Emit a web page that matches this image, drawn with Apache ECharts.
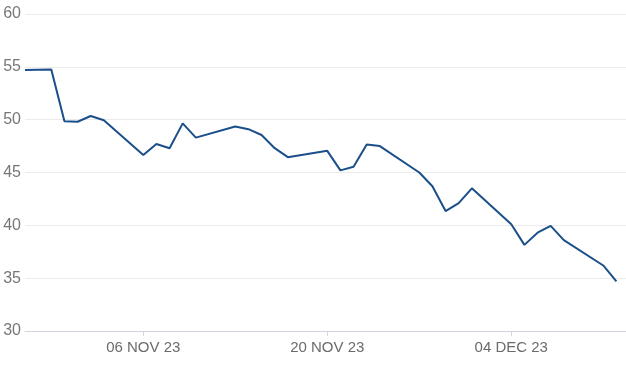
<!DOCTYPE html>
<html>
<head>
<meta charset="utf-8">
<script src="https://cdn.jsdelivr.net/npm/echarts@6/dist/echarts.min.js"></script>
<style>
html,body{margin:0;padding:0;background:#fff;}
#chart{width:626px;height:366px;}
</style>
</head>
<body>
<div id="chart"></div>
<script>
var dates = ['2023-10-28','2023-10-30','2023-10-31','2023-11-01','2023-11-02','2023-11-03',
  '2023-11-06','2023-11-07','2023-11-08','2023-11-09','2023-11-10',
  '2023-11-13','2023-11-14','2023-11-15','2023-11-16','2023-11-17',
  '2023-11-20','2023-11-21','2023-11-22','2023-11-23','2023-11-24',
  '2023-11-27','2023-11-28','2023-11-29','2023-11-30','2023-12-01',
  '2023-12-04','2023-12-05','2023-12-06','2023-12-07','2023-12-08',
  '2023-12-11','2023-12-12'];
var values = [54.7,54.75,49.85,49.8,50.35,49.95,
  46.65,47.7,47.3,49.65,48.3,
  49.35,49.1,48.55,47.3,46.45,
  47.05,45.2,45.55,47.65,47.5,
  45.0,43.7,41.35,42.1,43.5,
  40.1,38.15,39.3,39.95,38.6,
  36.2,34.7];
var tickDates = ['2023-11-06','2023-11-20','2023-12-04'];
var yTicks = [30,35,40,45,50,55,60];

var DAY = 86400000;
function dayNum(s){var p=s.split('-');return Math.round(Date.UTC(+p[0],+p[1]-1,+p[2])/DAY);}
var MONTHS = ['JAN','FEB','MAR','APR','MAY','JUN','JUL','AUG','SEP','OCT','NOV','DEC'];
function fmt(v){var d=new Date(Math.round(v)*DAY);var dd=('0'+d.getUTCDate()).slice(-2);return dd+' '+MONTHS[d.getUTCMonth()]+' '+String(d.getUTCFullYear()).slice(-2);}
var xMin = dayNum(dates[0]);
var xMax = xMin + 45.73;
var tickVals = tickDates.map(dayNum);

var chart = echarts.init(document.getElementById('chart'), null, {renderer:'canvas'});
chart.setOption({
  animation:false,
  backgroundColor:'#fff',
  grid:{left:25,right:0,top:14,bottom:35,containLabel:false},
  xAxis:{
    type:'value', min:xMin, max:xMax, scale:true,
    axisLine:{show:true,lineStyle:{color:'#d3d6de',width:1}},
    axisTick:{show:true,customValues:tickVals,length:5,lineStyle:{color:'#d3d6de'}},
    axisLabel:{customValues:tickVals,formatter:function(v){return fmt(v);},color:'#6b6b6b',fontSize:15,fontFamily:'Liberation Sans, Arial, sans-serif',margin:9,hideOverlap:false},
    splitLine:{show:false}
  },
  yAxis:{
    type:'value', min:yTicks[0], max:yTicks[yTicks.length-1], interval:5,
    axisLine:{show:false}, axisTick:{show:false},
    axisLabel:{color:'#777777',fontSize:16,fontFamily:'Liberation Sans, Arial, sans-serif',margin:4},
    splitLine:{show:true,lineStyle:{color:'#ebebeb',width:1}}
  },
  series:[{
    type:'line',
    data:dates.map(function(d,i){return [dayNum(d),values[i]];}),
    showSymbol:false,
    lineStyle:{color:'#1b4f8a',width:2},
    itemStyle:{color:'#1b4f8a'}
  }]
});
</script>
</body>
</html>
